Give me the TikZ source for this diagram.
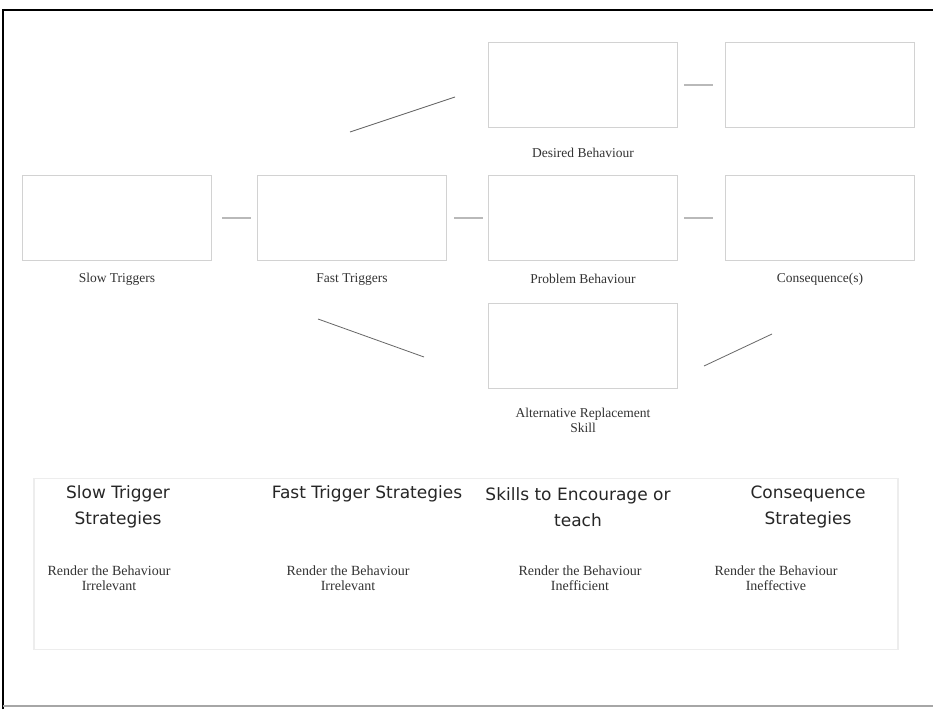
\documentclass[tikz,border=0pt]{standalone}
\usepackage{fontspec}
\setmainfont{Liberation Serif}
\newfontfamily\headfont{DejaVu Sans}
\usetikzlibrary{positioning,calc}

\tikzset{
  stage/.style={draw=gray!35, line width=1.6pt, minimum width=189pt,
    minimum height=85pt, inner sep=0pt},
  caption/.style={font=\fontsize{13.5}{15}\selectfont, align=center, text=black!80},
  link/.style={draw=gray!55, line width=1.5pt},
  diag/.style={draw=black!60, line width=0.8pt},
  heading/.style={font=\headfont\fontsize{17}{26}\selectfont, align=center, text=black!85},
  note/.style={font=\fontsize{14}{15}\selectfont, align=center, text=black!80},
  panel/.style={draw=gray!14, line width=1.5pt, minimum width=864pt,
    minimum height=171pt, inner sep=0pt}
}

\begin{document}
\begin{tikzpicture}[x=1pt, y=-1pt]

% ------------------------------------------------------------
% Canvas and frame
% ------------------------------------------------------------

\fill[white] (0,0) rectangle (933,709);
\useasboundingbox (0,0) rectangle (933,709);

\draw[black, line width=1.6pt] (3,709) -- (3,10) -- (933,10);
\draw[gray!70, line width=1.2pt] (3,706) -- (933,706);

% ------------------------------------------------------------
% Positions
% ------------------------------------------------------------

\def\xslow{117}
\def\xfast{352}
\def\xmid{583}
\def\xcons{820}

\def\ytop{85}
\def\yrow{218}
\def\yalt{346}

% ------------------------------------------------------------
% Boxes
% ------------------------------------------------------------

\node[stage] (desired) at (\xmid,\ytop)  {};
\node[stage] (desout)  at (\xcons,\ytop) {};

\node[stage] (slow)    at (\xslow,\yrow) {};
\node[stage] (fast)    at (\xfast,\yrow) {};
\node[stage] (problem) at (\xmid,\yrow)  {};
\node[stage] (conseq)  at (\xcons,\yrow) {};

\node[stage] (altskill) at (\xmid,\yalt) {};

% ------------------------------------------------------------
% Captions
% ------------------------------------------------------------

\node[caption] (desiredlbl) at (\xmid,153)  {Desired Behaviour};
\node[caption] (slowlbl)    at (\xslow,279) {Slow Triggers};
\node[caption] (fastlbl)    at (\xfast,279) {Fast Triggers};
\node[caption] (problemlbl) at (\xmid,279)  {Problem Behaviour};
\node[caption] (conseqlbl)  at (\xcons,279) {Consequence(s)};
\node[caption] (altlbl)     at (\xmid,420)
{Alternative Replacement\\Skill};

% ------------------------------------------------------------
% Connectors
% ------------------------------------------------------------

\draw[link, shorten <=10pt, shorten >=6pt] (slow.east) -- (fast.west);
\draw[link, shorten <=7pt, shorten >=5pt] (fast.east) -- (problem.west);
\draw[link, shorten <=6pt, shorten >=12pt] (problem.east) -- (conseq.west);
\draw[link, shorten <=6pt, shorten >=12pt] (desired.east) -- (desout.west);

\coordinate (updA)   at (350,132);
\coordinate (updB)   at (455,97);
\coordinate (downA)  at (318,319);
\coordinate (downB)  at (424,357);
\coordinate (backA)  at (704,366);
\coordinate (backB)  at (772,334);

\draw[diag] (updA) -- (updB);
\draw[diag] (downA) -- (downB);
\draw[diag] (backA) -- (backB);

% ------------------------------------------------------------
% Strategy panel
% ------------------------------------------------------------

\node[panel] (strategies) at (466,564) {};

\node[heading] (slowhead) at (118,507)  {Slow Trigger\\Strategies};
\node[heading] (fasthead) at (367,494)  {Fast Trigger Strategies};
\node[heading] (skillhead) at (578,507) {Skills to Encourage or\\teach};
\node[heading] (conshead) at (808,507)  {Consequence\\Strategies};

\node[note] (slownote) at (109,578) {Render the Behaviour\\Irrelevant};
\node[note] (fastnote) at (348,578) {Render the Behaviour\\Irrelevant};
\node[note] (skillnote) at (580,578) {Render the Behaviour\\Inefficient};
\node[note] (consnote) at (776,578) {Render the Behaviour\\Ineffective};

\end{tikzpicture}
\end{document}
